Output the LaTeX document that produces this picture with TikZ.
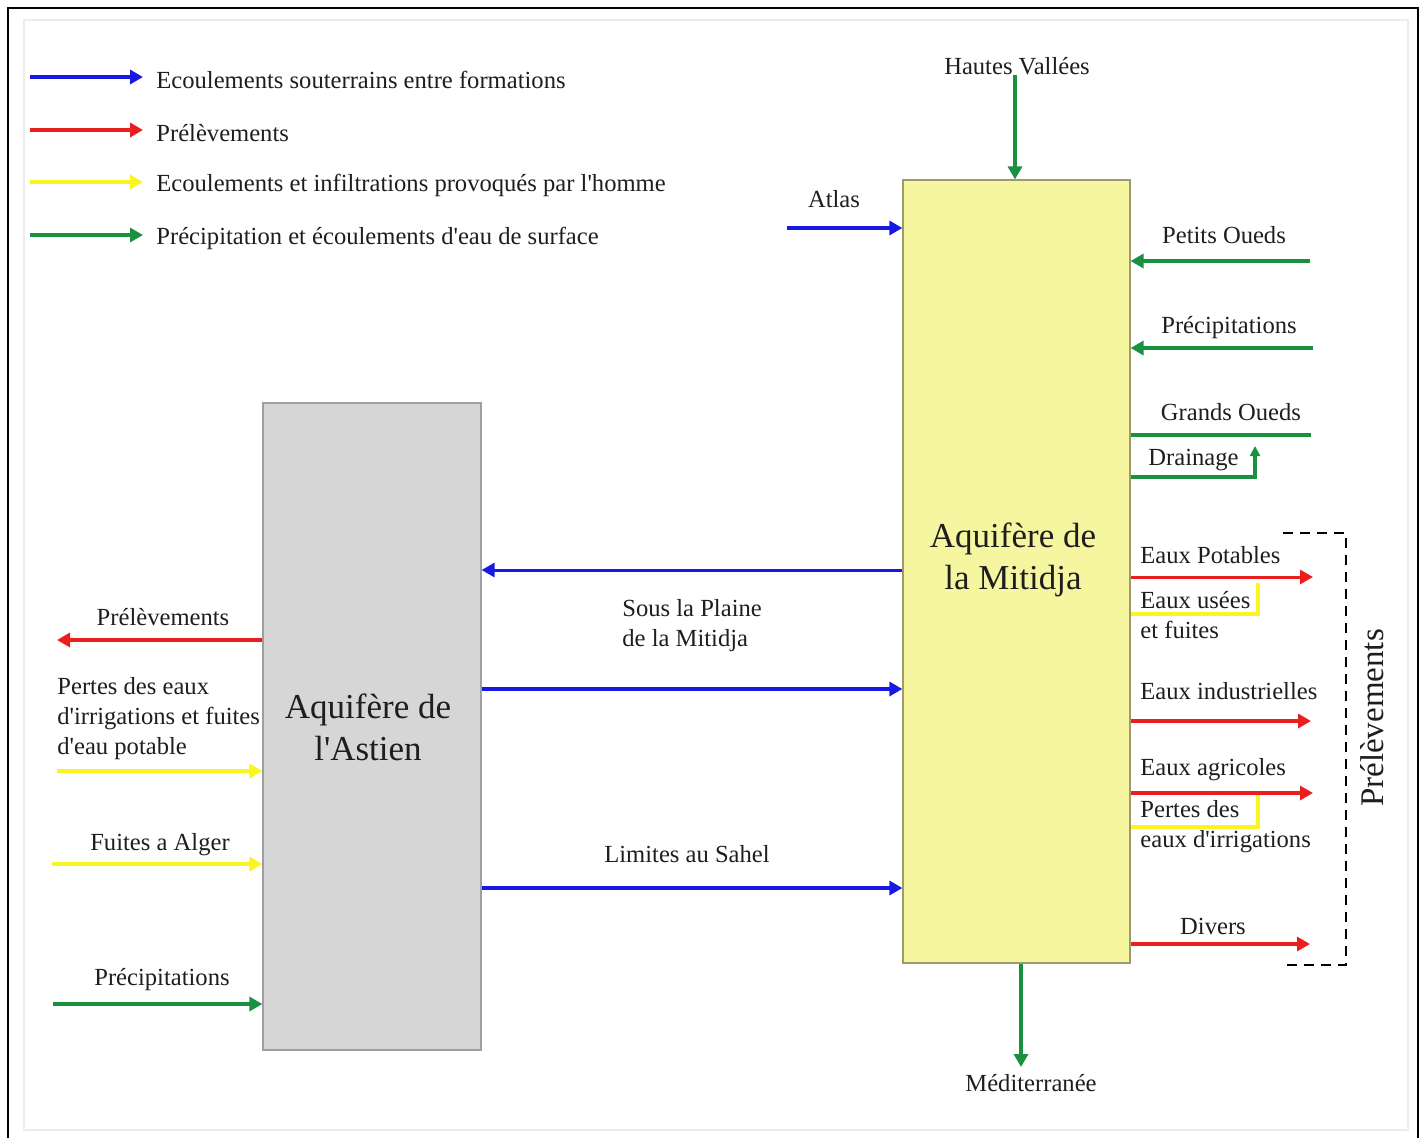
\documentclass[tikz,border=0pt]{standalone}
\usepackage{fontspec}
\setmainfont{Liberation Serif}
\usetikzlibrary{arrows.meta}

\definecolor{bleu}{RGB}{25,25,230}
\definecolor{rouge}{RGB}{235,30,30}
\definecolor{jaune}{RGB}{250,245,30}
\definecolor{vert}{RGB}{25,145,65}
\definecolor{fondastien}{RGB}{214,214,214}
\definecolor{fondmitidja}{RGB}{246,246,160}
\definecolor{encre}{RGB}{30,30,30}
\newcommand{\apos}{\textquotesingle}

\tikzset{
    flux/.style={line width=2pt, -{Triangle[length=6.5pt,width=7pt]}},
    souterrain/.style={flux, bleu},
    prelev/.style={flux, rouge},
    homme/.style={flux, jaune},
    surface/.style={flux, vert},
    lbl/.style={inner sep=0pt, text=encre, font=\fontsize{12.3}{15}\selectfont},
    boxlbl/.style={inner sep=0pt, text=encre, align=center, font=\fontsize{17.5}{21}\selectfont}
}

\begin{document}
\begin{tikzpicture}[x=0.5pt,y=-0.5pt]
    \useasboundingbox (0,0) rectangle (1424,1137);
    % cadre
    \draw[gray!15, line width=0.8pt] (24,20) rectangle (1408,1130);
    \draw[line width=1.2pt] (8,1150) -- (8,8) -- (1418,8) -- (1418,1150);

    % legende
    \foreach \i/\y/\st/\txt in {1/77/souterrain/{Ecoulements souterrains entre formations},
                                2/130/prelev/{Prélèvements},
                                3/182/homme/{Ecoulements et infiltrations provoqués par l\apos homme},
                                4/235/surface/{Précipitation et écoulements d\apos eau de surface}} {
        \coordinate (leg\i a) at (30,\y);
        \coordinate (leg\i b) at (143,\y);
        \draw[\st] (leg\i a) -- (leg\i b);
        \node[lbl, anchor=west] (leg\i) at (156,\y+3) {\txt};
    }

    % les deux aquiferes
    \node[draw=gray!75, line width=0.6pt, fill=fondastien, minimum width=109pt, minimum height=323.5pt] (astien) at (372,726.5) {};
    \node[boxlbl] (astienLbl) at (368,727) {Aquifère de\\l\apos Astien};
    \node[draw=black!45!olive!60, line width=0.6pt, fill=fondmitidja, minimum width=113.5pt, minimum height=391.5pt] (mitidja) at (1016.5,571.5) {};
    \node[boxlbl] (mitidjaLbl) at (1013,560) {Aquifère de\\la Mitidja};

    % entrees et sorties de l'Astien
    \node[lbl] (prelA) at (163,617) {Prélèvements};
    \coordinate (prelAend) at (57,640);
    \draw[prelev] (astien.west |- prelAend) -- (prelAend);
    \node[lbl, anchor=west, align=left] (pertesA) at (57,719) {Pertes des eaux\\d\apos irrigations et fuites\\d\apos eau potable};
    \coordinate (pertesAst) at (57,771);
    \draw[homme] (pertesAst) -- (astien.west |- pertesAst);
    \node[lbl] (alger) at (160,845) {Fuites a Alger};
    \coordinate (algerSt) at (52,864);
    \draw[homme] (algerSt) -- (astien.west |- algerSt);
    \node[lbl] (precA) at (162,980) {Précipitations};
    \coordinate (precASt) at (53,1004);
    \draw[surface] (precASt) -- (astien.west |- precASt);

    % echanges entre les aquiferes
    \coordinate (echange1) at (700,570);
    \draw[souterrain, line width=1.5pt] (mitidja.west |- echange1) -- (astien.east |- echange1);
    \node[lbl, anchor=west, align=left] (plaine) at (622,626) {Sous la Plaine\\de la Mitidja};
    \coordinate (echange2) at (700,689);
    \draw[souterrain] (astien.east |- echange2) -- (mitidja.west |- echange2);
    \node[lbl] (sahel) at (687,854) {Limites au Sahel};
    \coordinate (echange3) at (700,888);
    \draw[souterrain] (astien.east |- echange3) -- (mitidja.west |- echange3);

    % entrees de la Mitidja
    \node[lbl] (hautes) at (1017,66) {Hautes Vallées};
    \draw[surface] (hautes.south -| 1015,0) -- (mitidja.north -| 1015,0);
    \node[lbl] (atlas) at (834,199) {Atlas};
    \coordinate (atlasSt) at (787,228);
    \draw[souterrain] (atlasSt) -- (mitidja.west |- atlasSt);
    \node[lbl] (petits) at (1224,235) {Petits Oueds};
    \coordinate (petitsSt) at (1310,261);
    \draw[surface] (petitsSt) -- (mitidja.east |- petitsSt);
    \node[lbl] (precM) at (1229,328) {Précipitations};
    \coordinate (precMSt) at (1313,348);
    \draw[surface] (precMSt) -- (mitidja.east |- precMSt);
    \node[lbl] (grands) at (1231,412) {Grands Oueds};
    \coordinate (grandsSt) at (1311,435);
    \draw[vert, line width=2.2pt] (grandsSt) -- (mitidja.east |- grandsSt);
    \node[lbl, anchor=west] (drainage) at (1148,460) {Drainage};
    \coordinate (drainK) at (1255,477);
    \coordinate (drainEnd) at (1255,446);
    \draw[surface, -{Triangle[length=5pt,width=5pt]}] (mitidja.east |- drainK) -- (drainK) -- (drainEnd);

    % prelevements dans la Mitidja
    \node[lbl, anchor=west] (potables) at (1140,555) {Eaux Potables};
    \coordinate (potablesEnd) at (1313,577);
    \draw[prelev, line width=1.5pt] (mitidja.east |- potablesEnd) -- (potablesEnd);
    \node[lbl, anchor=west, align=left] (usees) at (1140,615) {Eaux usées\\et fuites};
    \coordinate (useesK) at (1258,614);
    \coordinate (useesEnd) at (1258,583);
    \draw[jaune, line width=2pt] (mitidja.east |- useesK) -- (useesK) -- (useesEnd);
    \node[lbl, anchor=west] (indus) at (1140,691) {Eaux industrielles};
    \coordinate (indusEnd) at (1311,721);
    \draw[prelev] (mitidja.east |- indusEnd) -- (indusEnd);
    \node[lbl, anchor=west] (agri) at (1140,770) {Eaux agricoles};
    \coordinate (agriEnd) at (1313,793);
    \draw[prelev] (mitidja.east |- agriEnd) -- (agriEnd);
    \node[lbl, anchor=west, align=left] (pertesM) at (1140,827) {Pertes des\\eaux d\apos irrigations};
    \coordinate (pertesK) at (1258,827);
    \coordinate (pertesEnd) at (1258,795);
    \draw[jaune, line width=2pt] (mitidja.east |- pertesK) -- (pertesK) -- (pertesEnd);
    \node[lbl] (divers) at (1213,926) {Divers};
    \coordinate (diversEnd) at (1310,944);
    \draw[prelev] (mitidja.east |- diversEnd) -- (diversEnd);

    % accolade des prelevements
    \draw[line width=1.2pt, dash pattern=on 5pt off 3.5pt] (1283,533) -- (1346,533) -- (1346,965) -- (1283,965);
    \node[lbl, rotate=90, font=\fontsize{16.5}{20}\selectfont] (prelM) at (1372,718) {Prélèvements};

    % sortie vers la mer
    \node[lbl] (mer) at (1031,1083) {Méditerranée};
    \coordinate (merEnd) at (1021,1067);
    \draw[surface] (mitidja.south -| merEnd) -- (merEnd);
\end{tikzpicture}
\end{document}
